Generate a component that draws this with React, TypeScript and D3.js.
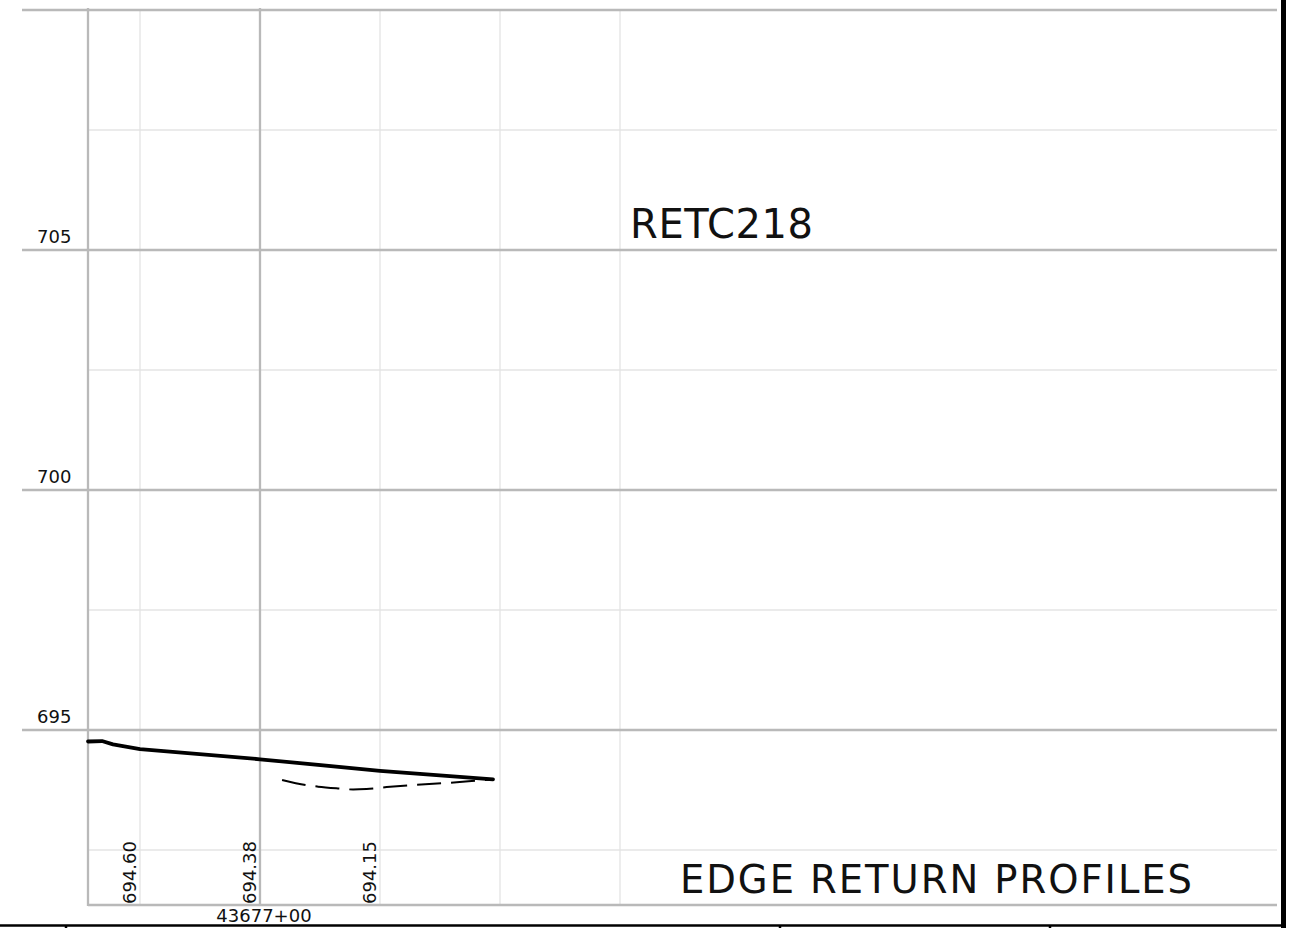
import React from "react";
import * as d3 from "d3";

// ---- data ----
const stationBase = "43677+00";
const xMinorGrid = [-25, 25, 50, 75]; // offsets (ft) from 43677+00
const xMajorGrid = [0];
const yMajorTicks = [695, 700, 705, 710];
const yMinorTicks = [692.5, 697.5, 702.5, 707.5];
const yLabels = [695, 700, 705];

const solidOffsets = [-35.83, -32.92, -30.63, -25, 0, 25, 48.54];
const solidElev = [694.76, 694.77, 694.7, 694.6, 694.39, 694.15, 693.97];

const dashedOffsets = [4.6, 9.7, 12.1, 16.7, 19.4, 22.2, 26.4, 31.3, 41.0, 45.8, 48.54];
const dashedElev = [693.96, 693.85, 693.82, 693.78, 693.76, 693.77, 693.81, 693.85, 693.91, 693.95, 693.97];

const elevLabelOffsets = [-25, 0, 25];
const elevLabelTexts = ["694.60", "694.38", "694.15"];

const title = "RETC218";
const footer = "EDGE RETURN PROFILES";

const W = 1291;
const H = 928;

export default function App() {
  const x = d3.scaleLinear().domain([-35.833, 211.875]).range([88, 1277]);
  const y = d3.scaleLinear().domain([691.354, 710]).range([905, 10]);

  const solidData = solidOffsets.map((o, i) => [o, solidElev[i]] as [number, number]);
  const dashedData = dashedOffsets.map((o, i) => [o, dashedElev[i]] as [number, number]);
  const line = d3
    .line<[number, number]>()
    .x((d) => x(d[0]))
    .y((d) => y(d[1]));
  const curved = d3
    .line<[number, number]>()
    .x((d) => x(d[0]))
    .y((d) => y(d[1]))
    .curve(d3.curveMonotoneX);

  const font = "DejaVu Sans, sans-serif";
  const major = "#b9b9b9";
  const minor = "#e4e4e4";
  const yBottom = y.domain()[0];
  const yTop = 710;
  const xLeft = x.domain()[0];
  const xRight = x.domain()[1];

  return (
    <svg
      width={W}
      height={H}
      style={{ position: "absolute", left: 0, top: 0, background: "#fff" }}
      fontFamily={font}
    >
      {/* minor horizontal */}
      {yMinorTicks.map((t) => (
        <line key={"hm" + t} x1={x(xLeft)} x2={x(xRight)} y1={y(t)} y2={y(t)} stroke={minor} strokeWidth={1.3} />
      ))}
      {/* minor vertical */}
      {xMinorGrid.map((t) => (
        <line key={"vm" + t} x1={x(t)} x2={x(t)} y1={y(yTop)} y2={y(yBottom)} stroke={minor} strokeWidth={1.3} />
      ))}
      {/* major horizontal */}
      {yMajorTicks.map((t) => (
        <line key={"hM" + t} x1={22} x2={x(xRight)} y1={y(t)} y2={y(t)} stroke={major} strokeWidth={2.3} />
      ))}
      {/* bottom axis */}
      <line x1={x(xLeft)} x2={x(xRight)} y1={y(yBottom)} y2={y(yBottom)} stroke={major} strokeWidth={2.3} />
      {/* major vertical */}
      {[xLeft, ...xMajorGrid].map((t) => (
        <line key={"vM" + t} x1={x(t)} x2={x(t)} y1={y(yTop) - 2} y2={y(yBottom) + 1} stroke={major} strokeWidth={2.3} />
      ))}

      {/* y labels */}
      {yLabels.map((t) => (
        <text key={"yl" + t} x={37} y={y(t) - 7} fontSize={18} fill="#111">
          {t}
        </text>
      ))}

      {/* profiles */}
      <path d={line(solidData) || ""} fill="none" stroke="#000" strokeWidth={3.8} strokeLinejoin="round" strokeLinecap="round" />
      <path d={curved(dashedData) || ""} fill="none" stroke="#000" strokeWidth={2} strokeDasharray="24 10" />

      {/* elevation labels */}
      {elevLabelOffsets.map((o, i) => (
        <text
          key={"el" + i}
          transform={`translate(${x(o) - 4},${y(yBottom) - 1}) rotate(-90)`}
          fontSize={18}
          fill="#111"
        >
          {elevLabelTexts[i]}
        </text>
      ))}

      {/* station label */}
      <text x={x(0) + 4} y={922} fontSize={18} textAnchor="middle" fill="#111">
        {stationBase}
      </text>

      {/* title */}
      <text x={630} y={238} fontSize={40} fill="#111" letterSpacing={0.6}>
        {title}
      </text>
      <text x={680} y={893} fontSize={38.5} fill="#111" textLength={512} lengthAdjust="spacing">
        {footer}
      </text>

      {/* sheet frame */}
      <line x1={0} x2={1283} y1={925.5} y2={925.5} stroke="#000" strokeWidth={2.5} />
      {[66, 780, 1050].map((t) => (
        <line key={"tk" + t} x1={t} x2={t} y1={925} y2={928} stroke="#000" strokeWidth={2.5} />
      ))}
      <line x1={1283.5} x2={1283.5} y1={0} y2={928} stroke="#000" strokeWidth={5} />
    </svg>
  );
}
